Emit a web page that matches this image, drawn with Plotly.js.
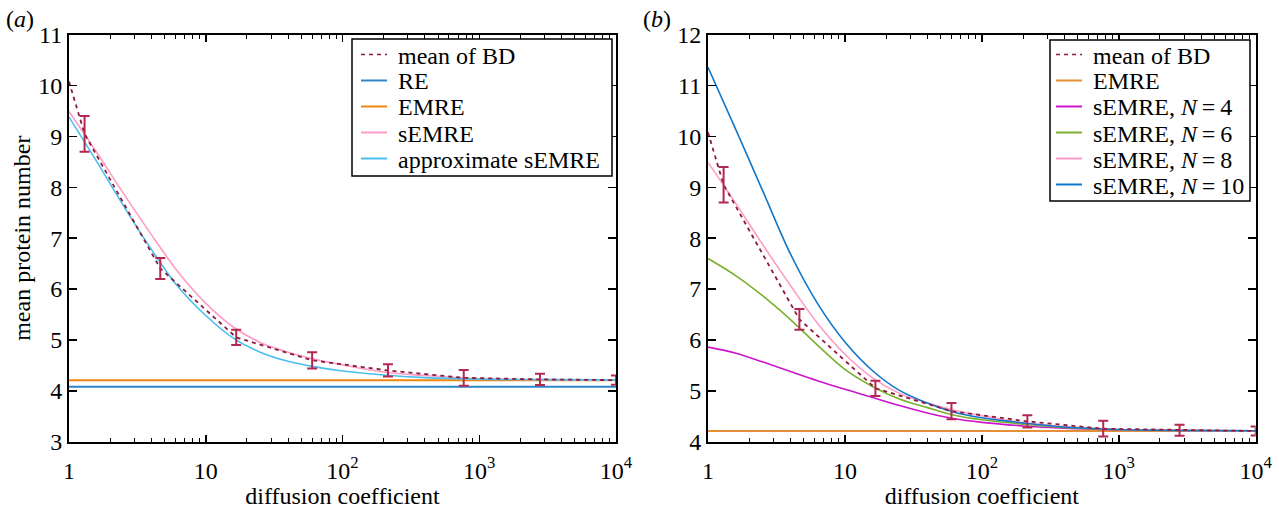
<!DOCTYPE html>
<html><head><meta charset="utf-8">
<script src="https://cdn.plot.ly/plotly-3.0.1.min.js"></script>
<style>html,body{margin:0;padding:0;background:#fff}#chart{width:1279px;height:509px}</style>
</head><body><div id="chart"></div>
<script>
// ---------- data ----------
const curveX      = [1, 1.6, 2.5, 4, 6.3, 10, 16, 25, 40, 63, 100, 200, 400, 1000, 3000, 10000];
const sEMRE8      = [9.49, 8.68, 7.88, 7.07, 6.33, 5.72, 5.25, 4.95, 4.76, 4.62, 4.51, 4.37, 4.30, 4.24, 4.22, 4.215];
const approxSEMRE = [9.38, 8.50, 7.64, 6.78, 6.04, 5.48, 5.03, 4.76, 4.58, 4.47, 4.39, 4.31, 4.26, 4.23, 4.22, 4.215];
const sEMRE10     = [11.36, 10.13, 8.94, 7.69, 6.72, 5.96, 5.39, 5.01, 4.76, 4.58, 4.47, 4.37, 4.29, 4.24, 4.22, 4.215];
const sEMRE6      = [7.60, 7.26, 6.87, 6.40, 5.90, 5.42, 5.08, 4.84, 4.67, 4.52, 4.43, 4.345, 4.28, 4.235, 4.22, 4.215];
const sEMRE4      = [5.86, 5.74, 5.57, 5.38, 5.20, 5.03, 4.87, 4.71, 4.565, 4.45, 4.38, 4.31, 4.265, 4.235, 4.22, 4.215];
const reLevel   = 4.08;
const emreLevel = 4.21;
const bdX   = [1, 1.3, 4.65, 16.7, 60, 215, 770, 2780, 10000];
const bdY   = [10.08, 9.05, 6.405, 5.05, 4.6, 4.4, 4.255, 4.225, 4.21];
const bdErr = [0.35, 0.205, 0.15, 0.16, 0.12, 0.155, 0.11, 0.09];
const xTickVals = [1, 10, 100, 1000, 10000];
const xTickText = ['1', '10', '10<sup>2</sup>', '10<sup>3</sup>', '10<sup>4</sup>'];
const legendA = ['mean of BD', 'RE', 'EMRE', 'sEMRE', 'approximate sEMRE'];
const legendB = ['mean of BD', 'EMRE', 'sEMRE, <i>N</i>\u2009=\u20094', 'sEMRE, <i>N</i>\u2009=\u20096', 'sEMRE, <i>N</i>\u2009=\u20098', 'sEMRE, <i>N</i>\u2009=\u200910'];

// ---------- styles ----------
const C = {bd:'#8E1B3E', err:'#B3284F', re:'#2F86C8', emreA:'#F0860F', emreB:'#E58E35',
           pink:'#FF9BC8', light:'#48BFEF', n4:'#CC14CC', n6:'#7AB02C', n10:'#1177C8'};
const W = 1279, H = 509;
const fx = p => p / W, fy = p => 1 - p / H;
const FONT = {family:'Liberation Serif, Times New Roman, serif', size:24, color:'#000'};
const xEnds = [curveX[0], curveX[curveX.length - 1]];

function line(x, y, color, xa, ya, extra) {
  return Object.assign({type:'scatter', mode:'lines', x, y, xaxis:xa, yaxis:ya, showlegend:false,
    hoverinfo:'skip', line:{color, width:1.6, shape:'spline', smoothing:1}}, extra || {});
}
function bdTraces(xa, ya) {
  return [
    line(bdX, bdY, C.bd, xa, ya, {line:{color:C.bd, width:1.8, dash:'4px,4px'}}),
    {type:'scatter', mode:'markers', x:bdX.slice(1), y:bdY.slice(1), xaxis:xa, yaxis:ya, showlegend:false,
     hoverinfo:'skip', marker:{size:1, color:'rgba(0,0,0,0)'},
     error_y:{type:'data', array:bdErr, symmetric:true, color:C.err, thickness:2, width:5}}
  ];
}
const traces = [
  line(xEnds, [reLevel, reLevel], C.re, 'x', 'y', {line:{color:C.re, width:2}}),
  line(xEnds, [emreLevel, emreLevel], C.emreA, 'x', 'y', {line:{color:C.emreA, width:2}}),
  line(curveX, sEMRE8, C.pink, 'x', 'y'),
  line(curveX, approxSEMRE, C.light, 'x', 'y'),
  ...bdTraces('x', 'y'),
  line(xEnds, [emreLevel, emreLevel], C.emreB, 'x2', 'y2', {line:{color:C.emreB, width:1.8}}),
  line(curveX, sEMRE4, C.n4, 'x2', 'y2'),
  line(curveX, sEMRE6, C.n6, 'x2', 'y2'),
  line(curveX, sEMRE8, C.pink, 'x2', 'y2'),
  line(curveX, sEMRE10, C.n10, 'x2', 'y2'),
  ...bdTraces('x2', 'y2')
];

function xAxis(domain, anchor) {
  return {type:'log', range:[0, 4], domain, anchor, tickmode:'array', tickvals:xTickVals, ticktext:xTickText,
    ticks:'inside', ticklen:7, tickwidth:1.5, tickcolor:'#000', linewidth:2, linecolor:'#000', mirror:'ticks',
    showgrid:false, zeroline:false, tickfont:FONT, ticklabelstandoff:6, automargin:false,
    minor:{ticks:'inside', ticklen:4, tickwidth:1, tickcolor:'#000', dtick:'D1', showgrid:false},
    title:{text:'diffusion coefficient', font:FONT, standoff:3}};
}
function yAxis(domain, anchor, range, title) {
  const a = {range, domain, anchor, dtick:1, tick0:0, ticks:'inside', ticklen:8, tickwidth:1.5, tickcolor:'#000',
    linewidth:2, linecolor:'#000', mirror:'ticks', showgrid:false, zeroline:false, tickfont:FONT,
    ticklabelstandoff:0, automargin:false};
  if (title) a.title = {text:title, font:FONT, standoff:1};
  return a;
}

const yDom = [fy(441.7), fy(34.7)];
const shapes = [], annotations = [];
function legend(box, lx1, lx2, tx, rows, names, styles) {
  shapes.push({type:'rect', xref:'paper', yref:'paper', x0:fx(box[0]), x1:fx(box[2]), y0:fy(box[3]), y1:fy(box[1]),
    line:{color:'#000', width:1.5}, fillcolor:'#fff', layer:'above'});
  names.forEach((n, i) => {
    const yy = rows[i];
    shapes.push({type:'line', xref:'paper', yref:'paper', x0:fx(lx1), x1:fx(lx2), y0:fy(yy), y1:fy(yy),
      line:styles[i], layer:'above'});
    annotations.push({xref:'paper', yref:'paper', x:fx(tx), y:fy(yy + 1), xanchor:'left', yanchor:'middle',
      text:n, showarrow:false, font:FONT});
  });
}
const rowsA = [54.5, 80.5, 106.5, 132.5, 158.5];
const rowsB = [54.5, 80.5, 106.5, 132.5, 158.5, 184.5];
const dashS = {color:C.bd, width:1.5, dash:'4px,4px'};
legend([352, 39, 612, 176], 361, 387, 396, rowsA, legendA,
  [dashS, {color:C.re, width:2}, {color:C.emreA, width:2}, {color:C.pink, width:2}, {color:C.light, width:2}]);
legend([1050, 40, 1250, 201], 1056, 1082, 1091, rowsB, legendB,
  [dashS, {color:C.emreB, width:2}, {color:C.n4, width:2}, {color:C.n6, width:2}, {color:C.pink, width:2}, {color:C.n10, width:2}]);
annotations.push({xref:'paper', yref:'paper', x:fx(4), y:fy(19), xanchor:'left', yanchor:'middle',
  text:'(<i>a</i>)', showarrow:false, font:FONT});
annotations.push({xref:'paper', yref:'paper', x:fx(641), y:fy(19), xanchor:'left', yanchor:'middle',
  text:'(<i>b</i>)', showarrow:false, font:FONT});

const layout = {
  width:W, height:H, margin:{l:0, r:0, t:0, b:0}, paper_bgcolor:'#fff', plot_bgcolor:'#fff',
  font:FONT, showlegend:false,
  xaxis: xAxis([fx(69), fx(616)], 'y'),
  yaxis: yAxis(yDom, 'x', [3, 11], 'mean protein number'),
  xaxis2: xAxis([fx(708), fx(1255.7)], 'y2'),
  yaxis2: yAxis(yDom, 'x2', [4, 12], null),
  shapes, annotations
};
Plotly.newPlot('chart', traces, layout, {staticPlot:true, displayModeBar:false});
</script></body></html>
